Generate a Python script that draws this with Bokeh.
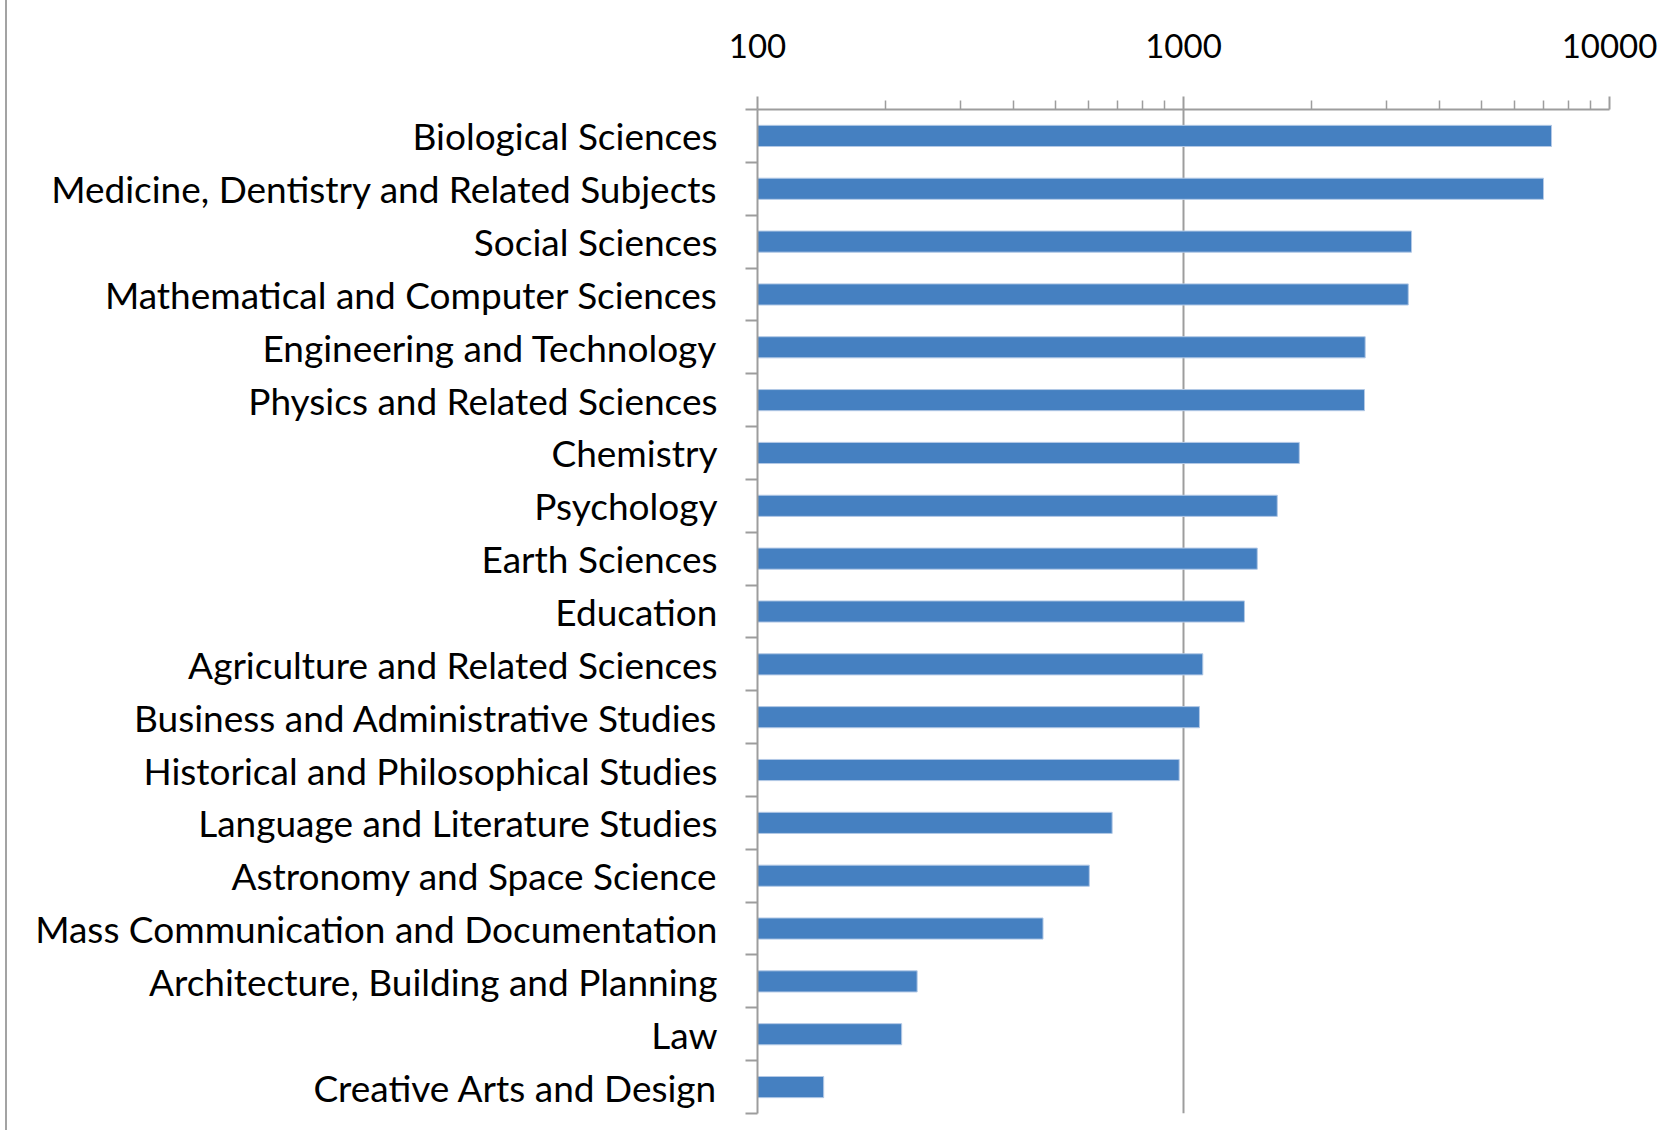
from bokeh.plotting import figure
from bokeh.models import Range1d, FixedTicker, CustomJSTickFormatter, NumeralTickFormatter, ColumnDataSource
from bokeh.embed import file_html
from bokeh.resources import INLINE

categories = [
    "Biological Sciences",
    "Medicine, Dentistry and Related Subjects",
    "Social Sciences",
    "Mathematical and Computer Sciences",
    "Engineering and Technology",
    "Physics and Related Sciences",
    "Chemistry",
    "Psychology",
    "Earth Sciences",
    "Education",
    "Agriculture and Related Sciences",
    "Business and Administrative Studies",
    "Historical and Philosophical Studies",
    "Language and Literature Studies",
    "Astronomy and Space Science",
    "Mass Communication and Documentation",
    "Architecture, Building and Planning",
    "Law",
    "Creative Arts and Design",
]
values = [7310, 7000, 3430, 3370, 2670, 2660, 1870, 1660, 1490, 1390,
          1110, 1090, 977, 680, 601, 468, 237, 218, 143]
x_major_ticks = [100, 1000, 10000]
x_minor_ticks = [200, 300, 400, 500, 600, 700, 800, 900,
                 2000, 3000, 4000, 5000, 6000, 7000, 8000, 9000]

n = len(categories)
centers = [i + 0.5 for i in range(n)]
bounds = list(range(n + 1))

src = ColumnDataSource(dict(y=centers, v=values, base=[x_major_ticks[0]] * n))

FONT = "Lato"
AX = "#9d9d9d"

p = figure(width=1655, height=1130, output_backend="svg", toolbar_location=None,
           x_axis_type="log", x_axis_location="above",
           x_range=Range1d(x_major_ticks[0], x_major_ticks[-1]),
           y_range=Range1d(n, 0),
           min_border_left=750, min_border_right=53, min_border_top=109, min_border_bottom=17)
p.styles = {"margin-left": "5px", "border-left": "2px solid #a3a3a3"}
p.outline_line_color = None
p.background_fill_color = "white"

p.hbar(y="y", left="base", right="v", height=0.4, source=src,
       fill_color="#4580c1", line_color="#b3c9e6", line_width=1)

# top (log) axis
xa = p.xaxis[0]
xa.ticker = FixedTicker(ticks=x_major_ticks, minor_ticks=x_minor_ticks)
xa.formatter = NumeralTickFormatter(format="0")
xa.axis_line_color = AX
xa.axis_line_width = 2
xa.major_tick_line_color = AX
xa.major_tick_line_width = 2
xa.minor_tick_line_color = AX
xa.minor_tick_line_width = 1.5
xa.major_tick_in = 0
xa.major_tick_out = 13
xa.minor_tick_in = 0
xa.minor_tick_out = 9
xa.major_label_text_font = FONT
xa.major_label_text_font_size = "33px"
xa.major_label_text_color = "black"
xa.major_label_standoff = 39

# left categorical-style axis
ya = p.yaxis[0]
ya.ticker = FixedTicker(ticks=centers, minor_ticks=bounds)
ya.formatter = CustomJSTickFormatter(args=dict(labels=categories),
                                     code="return labels[Math.floor(tick)] || '';")
ya.axis_line_color = AX
ya.axis_line_width = 2
ya.major_tick_line_color = None
ya.major_tick_in = 0
ya.major_tick_out = 0
ya.minor_tick_line_color = AX
ya.minor_tick_line_width = 2
ya.minor_tick_in = 0
ya.minor_tick_out = 12
ya.major_label_text_font = FONT
ya.major_label_text_font_size = "37px"
ya.major_label_text_color = "black"
ya.major_label_standoff = 28

p.ygrid.grid_line_color = None
p.xgrid.ticker = FixedTicker(ticks=x_major_ticks)
p.xgrid.grid_line_color = AX
p.xgrid.grid_line_width = 2
p.xgrid.minor_grid_line_color = None

open("out.html", "w").write(file_html(p, INLINE))
